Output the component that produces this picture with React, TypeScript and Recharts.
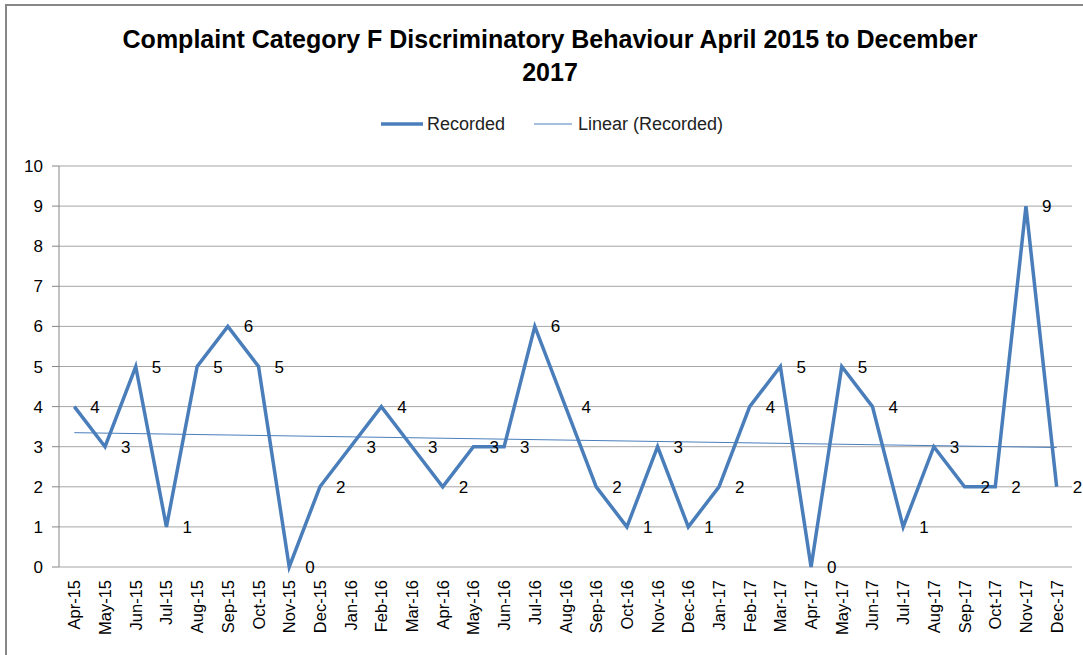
import { LineChart, Line, XAxis, YAxis, CartesianGrid, LabelList } from "recharts";

const categories = [
  "Apr-15", "May-15", "Jun-15", "Jul-15", "Aug-15", "Sep-15", "Oct-15", "Nov-15", "Dec-15",
  "Jan-16", "Feb-16", "Mar-16", "Apr-16", "May-16", "Jun-16", "Jul-16", "Aug-16", "Sep-16",
  "Oct-16", "Nov-16", "Dec-16", "Jan-17", "Feb-17", "Mar-17", "Apr-17", "May-17", "Jun-17",
  "Jul-17", "Aug-17", "Sep-17", "Oct-17", "Nov-17", "Dec-17",
];

const recorded = [4, 3, 5, 1, 5, 6, 5, 0, 2, 3, 4, 3, 2, 3, 3, 6, 4, 2, 1, 3, 1, 2, 4, 5, 0, 5, 4, 1, 3, 2, 2, 9, 2];

// trend line end points
const trendStart = 3.35;
const trendEnd = 2.98;

const yTicks = [0, 1, 2, 3, 4, 5, 6, 7, 8, 9, 10];

const data = categories.map((month, i) => ({
  i,
  month,
  recorded: recorded[i],
  trend: i === 0 ? trendStart : i === categories.length - 1 ? trendEnd : null,
}));

const labelTicks = categories.map((_, i) => i);
const edgeTicks = [...categories.map((_, i) => i - 0.5), categories.length - 0.5];
const domain: [number, number] = [-0.5, categories.length - 0.5];

const FONT = "'Liberation Sans', Arial, sans-serif";
const BLUE = "#4a7ebb";
const AXIS = "#868686";

function MonthTick(props: any) {
  const { x, y, payload } = props;
  return (
    <g transform={`translate(${x},${y})`}>
      <text
        transform="rotate(-90)"
        x={0}
        y={0}
        dy={6}
        textAnchor="end"
        fontSize={16.5}
        fontFamily={FONT}
        fill="#000"
      >
        {categories[payload.value]}
      </text>
    </g>
  );
}

export default function App() {
  return (
    <div
      style={{
        position: "absolute",
        left: 0,
        top: 0,
        width: 1083,
        height: 655,
        overflow: "hidden",
        background: "#fff",
        fontFamily: FONT,
      }}
    >
      <div
        style={{
          position: "absolute",
          left: 5,
          top: 4,
          width: 1200,
          height: 800,
          border: "2px solid #878787",
        }}
      />
      <div
        style={{
          position: "absolute",
          left: 0,
          top: 23,
          width: 1100,
          textAlign: "center",
          fontWeight: "bold",
          fontSize: 25,
          lineHeight: "33px",
          color: "#000",
        }}
      >
        Complaint Category F Discriminatory Behaviour April 2015 to December
        <br />
        2017
      </div>
      <svg
        width={500}
        height={30}
        style={{ position: "absolute", left: 370, top: 110 }}
      >
        <line x1={11} y1={14} x2={53} y2={14} stroke={BLUE} strokeWidth={3.5} />
        <text x={57} y={20} fontSize={18} fill="#222" fontFamily={FONT}>
          Recorded
        </text>
        <line x1={164} y1={14} x2={202} y2={14} stroke={BLUE} strokeWidth={1} />
        <text x={208} y={20} fontSize={18} fill="#222" fontFamily={FONT}>
          Linear (Recorded)
        </text>
      </svg>
      <div style={{ position: "absolute", left: 0, top: 0 }}>
        <LineChart
          width={1083}
          height={655}
          data={data}
          margin={{ top: 166, right: 11, bottom: 0, left: 0 }}
        >
          <CartesianGrid vertical={false} stroke="#a6a6a6" />
          <XAxis
            xAxisId="edges"
            type="number"
            domain={domain}
            ticks={edgeTicks}
            tick={false}
            height={0}
            tickSize={7}
            stroke={AXIS}
            axisLine={{ stroke: AXIS }}
            tickLine={{ stroke: AXIS }}
          />
          <XAxis
            xAxisId="lab"
            type="number"
            dataKey="i"
            domain={domain}
            ticks={labelTicks}
            interval={0}
            height={88}
            axisLine={false}
            tickLine={false}
            tickSize={0}
            tickMargin={13}
            tick={<MonthTick />}
          />
          <YAxis
            domain={[0, 10]}
            ticks={yTicks}
            width={59}
            tickSize={7}
            tickMargin={9}
            stroke={AXIS}
            tick={{ fontSize: 17, fill: "#000", fontFamily: FONT }}
            interval={0}
          />
          <Line
            xAxisId="lab"
            type="linear"
            dataKey="recorded"
            stroke={BLUE}
            strokeWidth={3.5}
            dot={false}
            isAnimationActive={false}
          >
            <LabelList
              dataKey="recorded"
              position="right"
              offset={16}
              fontSize={17}
              fill="#000"
              fontFamily={FONT}
            />
          </Line>
          <Line
            xAxisId="lab"
            type="linear"
            dataKey="trend"
            stroke={BLUE}
            strokeWidth={1}
            dot={false}
            connectNulls
            isAnimationActive={false}
          />
        </LineChart>
      </div>
    </div>
  );
}
